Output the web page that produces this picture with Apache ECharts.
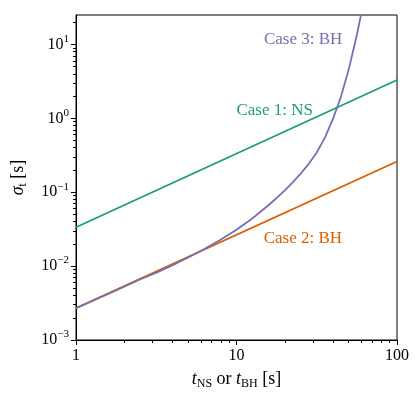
<!DOCTYPE html>
<html>
<head>
<meta charset="utf-8">
<script src="https://cdn.jsdelivr.net/npm/echarts@6/dist/echarts.min.js"></script>
<style>
  html, body { margin: 0; padding: 0; background: #fff; }
  #chart-panel { width: 415px; height: 395px; }
</style>
</head>
<body>
<div id="chart-panel"></div>
<script>
// straight lines (slope 1 on log-log)
const tLine = [1, 100];
const case1NS = [0.0335, 3.3];
const case2BH = [0.0027, 0.26];

// case 3 curve
const case3T = [1, 1.6, 2.5, 3.2, 4, 5, 6.3, 7.9, 10, 12.6, 15.8, 17.8, 20, 22.4,
  25.1, 28.2, 31.6, 35.5, 39.8, 44.7, 50.1, 56.2, 63.1];
const case3BH = [0.0027, 0.00422, 0.00659, 0.00824, 0.0103, 0.0131, 0.017, 0.0226,
  0.031, 0.0444, 0.0667, 0.0836, 0.106, 0.136, 0.178, 0.242, 0.345, 0.544,
  0.967, 1.94, 4.63, 13.4, 45];

const caseNames = ['Case 1: NS', 'Case 2: BH', 'Case 3: BH'];
const caseColors = ['#1b9e77', '#d95f02', '#7570b3'];
const caseLabelAt = [[17.3, 1.27], [25.9, 0.0238], [26.0, 11.5]];

const xMajor = [1, 10, 100];
const xMinor = [2, 3, 4, 5, 6, 7, 8, 9, 20, 30, 40, 50, 60, 70, 80, 90];
const yMajor = [0.001, 0.01, 0.1, 1, 10];
const yMinor = [0.002, 0.003, 0.004, 0.005, 0.006, 0.007, 0.008, 0.009,
  0.02, 0.03, 0.04, 0.05, 0.06, 0.07, 0.08, 0.09,
  0.2, 0.3, 0.4, 0.5, 0.6, 0.7, 0.8, 0.9,
  2, 3, 4, 5, 6, 7, 8, 9, 20];

const FONT = 'Liberation Serif';

var myChart = echarts.init(document.getElementById('chart-panel'));

function pairs(xs, ys) {
  return xs.map(function (x, i) { return [x, ys[i]]; });
}

function powLabel(v) {
  var e = Math.round(Math.log10(v));
  var s = e < 0 ? '\u2212' + (-e) : '' + e;
  return '{b|10}{sup|' + s + '}';
}

function caseSeries(i, data) {
  return {
    name: caseNames[i],
    type: 'line',
    data: data,
    showSymbol: false,
    lineStyle: { color: caseColors[i], width: 1.8 },
    itemStyle: { color: caseColors[i] },
    markPoint: {
      symbol: 'circle',
      symbolSize: 0,
      silent: true,
      label: {
        show: true,
        position: 'inside',
        formatter: caseNames[i],
        color: caseColors[i],
        fontFamily: FONT,
        fontSize: 17
      },
      data: [{ coord: caseLabelAt[i] }]
    }
  };
}

var nameRich = {
  i: { fontFamily: FONT, fontStyle: 'italic', fontSize: 18, lineHeight: 20, color: '#000' },
  r: { fontFamily: FONT, fontSize: 18, lineHeight: 20, color: '#000' },
  sub: { fontFamily: FONT, fontSize: 12, lineHeight: 12, padding: [9, 0, 0, 0], verticalAlign: 'top', color: '#000' }
};

myChart.setOption({
  animation: false,
  grid: {
    left: 71, right: 18, top: 15, bottom: 54,
    show: true, borderColor: '#000', borderWidth: 1,
    backgroundColor: 'transparent'
  },
  xAxis: [
    {
      type: 'log', logBase: 10, min: 1, max: 100, position: 'bottom',
      axisLine: { show: true, onZero: false, lineStyle: { color: '#000', width: 1 } },
      axisTick: { show: true, length: 5, customValues: xMajor, lineStyle: { color: '#000' } },
      axisLabel: {
        customValues: xMajor, margin: 8, color: '#000',
        fontFamily: FONT, fontSize: 16
      },
      splitLine: { show: false },
      name: '{i|t}{sub|NS}{r| or }{i|t}{sub|BH}{r| [s]}',
      nameLocation: 'middle',
      nameGap: 29,
      nameTextStyle: { rich: nameRich }
    },
    {
      type: 'log', logBase: 10, min: 1, max: 100, position: 'bottom',
      axisLine: { show: false },
      axisTick: { show: true, length: 3, customValues: xMinor, lineStyle: { color: '#000' } },
      axisLabel: { show: false },
      splitLine: { show: false }
    }
  ],
  yAxis: [
    {
      type: 'log', logBase: 10, min: 0.001, max: 25, position: 'left',
      axisLine: { show: true, onZero: false, lineStyle: { color: '#000', width: 1 } },
      axisTick: { show: true, length: 5, customValues: yMajor, lineStyle: { color: '#000' } },
      axisLabel: {
        customValues: yMajor, margin: 7, color: '#000',
        formatter: powLabel,
        rich: {
          b: { fontFamily: FONT, fontSize: 16, lineHeight: 22, color: '#000' },
          sup: { fontFamily: FONT, fontSize: 11, lineHeight: 11, verticalAlign: 'top', color: '#000' }
        }
      },
      splitLine: { show: false },
      name: '{i|\u03c3}{sub|t}{r| [s]}',
      nameLocation: 'middle',
      nameGap: 48,
      nameTextStyle: { rich: nameRich }
    },
    {
      type: 'log', logBase: 10, min: 0.001, max: 25, position: 'left',
      axisLine: { show: false },
      axisTick: { show: true, length: 3, customValues: yMinor, lineStyle: { color: '#000' } },
      axisLabel: { show: false },
      splitLine: { show: false }
    }
  ],
  series: [
    caseSeries(0, pairs(tLine, case1NS)),
    caseSeries(1, pairs(tLine, case2BH)),
    caseSeries(2, pairs(case3T, case3BH))
  ]
});
</script>
</body>
</html>
